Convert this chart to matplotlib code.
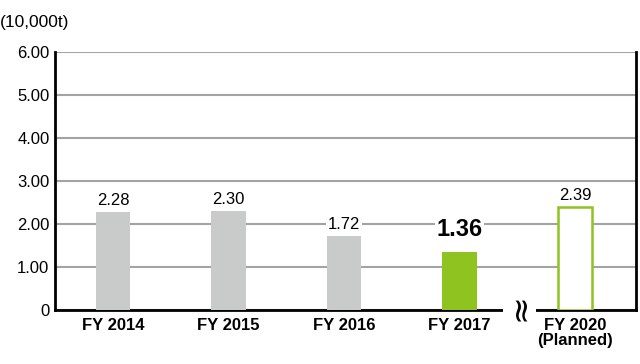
import numpy as np
import matplotlib.pyplot as plt

years = ['FY 2014', 'FY 2015', 'FY 2016', 'FY 2017', 'FY 2020\n(Planned)']
values = [2.28, 2.30, 1.72, 1.36, 2.39]
yticks = [0, 1, 2, 3, 4, 5, 6]

gray = '#c9caca'
green = '#8fc31f'

plt.rcParams['font.family'] = ['Liberation Sans', 'DejaVu Sans']

fig = plt.figure(figsize=(6.4, 3.64), dpi=100)
ax = fig.add_axes([55/640, 54/364, 581/640, 258/364])

x = np.arange(len(values))
w = 0.30
ax.bar(x[:3], values[:3], width=w, color=gray, zorder=3)
ax.bar(x[3], values[3], width=w, color=green, zorder=3)
ax.bar(x[4], values[4], width=w, facecolor='white', edgecolor=green, linewidth=1.8, zorder=3)

for i, v in enumerate(values):
    if i == 3:
        ax.text(i, v + 0.24, f'{v:.2f}', ha='center', va='bottom', fontsize=17,
                fontweight='bold', zorder=4,
                bbox=dict(facecolor='white', edgecolor='none', pad=1))
    else:
        ax.text(i, v + 0.1, f'{v:.2f}', ha='center', va='bottom', fontsize=12,
                zorder=4, bbox=dict(facecolor='white', edgecolor='none', pad=1))

ax.set_xlim(-0.502, 4.528)
ax.set_ylim(0, 6)
ax.set_yticks(yticks)
ax.set_yticklabels(['0'] + [f'{t:.2f}' for t in yticks[1:]], fontsize=12)
ax.set_xticks(x)
ax.set_xticklabels(years, fontsize=12, fontweight='bold', linespacing=0.95)
ax.tick_params(length=0, pad=4)
ax.tick_params(axis='x', pad=6)
ax.yaxis.grid(True, color='#a3a3a3', linewidth=1.5, zorder=0)
ax.set_axisbelow(True)
ax.spines['top'].set_visible(False)
for s in ['left', 'bottom', 'right']:
    ax.spines[s].set_linewidth(2)
    ax.spines[s].set_color('black')

# axis break mark between FY 2017 and FY 2020
ax.text(3.52, 0.08, '\u2248', rotation=90, ha='center', va='center', fontsize=24,
        family='DejaVu Sans', clip_on=False, zorder=5,
        bbox=dict(facecolor='white', edgecolor='none', pad=0))

fig.text(0.0, 342/364, '(10,000t)', fontsize=12.5, ha='left', va='center')

fig.savefig('out.png', dpi=100)
